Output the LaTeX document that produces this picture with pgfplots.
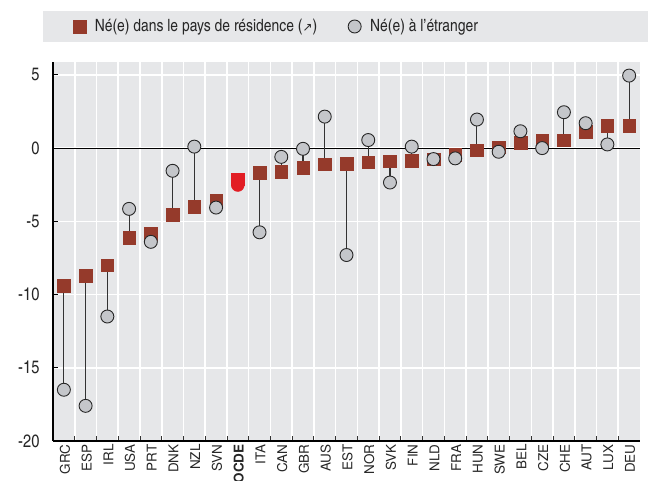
\documentclass[border=0pt]{standalone}
\usepackage{fontspec}
\setmainfont{TeX Gyre Heros Cn}
\newfontfamily\dejavu{DejaVu Sans}
\newfontfamily\xfont{TeX Gyre Heros}
\usepackage{pgfplots}
\pgfplotsset{compat=1.18}
\usepackage{pgfplotstable}
\definecolor{bgc}{HTML}{E6E7E9}
\definecolor{sqc}{HTML}{953A2B}
\definecolor{cic}{HTML}{C4C6CA}
\definecolor{oecd}{HTML}{E21D24}
\pgfplotstableread{
x sq ci
0 -9.4 -16.5
1 -8.7 -17.6
2 -8.0 -11.5
3 -6.1 -4.15
4 -5.85 -6.4
5 -4.55 -1.55
6 -4.0 0.1
7 -3.6 -4.06
9 -1.68 -5.75
10 -1.6 -0.6
11 -1.35 -0.05
12 -1.1 2.15
13 -1.05 -7.3
14 -0.95 0.55
15 -0.9 -2.35
16 -0.85 0.1
17 -0.75 -0.75
18 -0.45 -0.7
19 -0.15 1.95
20 0.05 -0.25
21 0.35 1.15
22 0.5 0.0
23 0.55 2.45
24 1.1 1.7
25 1.55 0.25
26 1.55 4.95
}\data
\begin{document}
\begin{tikzpicture}
\fill[white] (-53bp,-40bp) rectangle (595bp,441bp);
\fill[bgc] (-10bp,399bp) rectangle (595bp,430bp);
\begin{axis}[
  at={(0,0)}, anchor=south west, scale only axis,
  width=587bp, height=379.3bp,
  xmin=-0.5, xmax=26.5, ymin=-20, ymax=5.9,
  axis background/.style={fill=bgc},
  axis x line*=bottom, axis y line*=left,
  axis line style={black, line width=1.3pt},
  xtick={0,...,26},
  xticklabels={GRC,ESP,IRL,USA,PRT,DNK,NZL,SVN,\textbf{OCDE},ITA,CAN,GBR,AUS,EST,NOR,SVK,FIN,NLD,FRA,HUN,SWE,BEL,CZE,CHE,AUT,LUX,DEU},
  major x tick style={draw=none},
  minor xtick={0.5,1.5,...,25.5},
  xminorgrids,
  minor x grid style={white, line width=1.6pt},
  ytick={-20,-15,...,5},
  ymajorgrids,
  major y grid style={white, line width=1.6pt},
  tick align=inside,
  major tick length=5bp, minor tick length=5bp,
  minor x tick style={black!80, line width=0.8pt},
  major y tick style={black, line width=0.8pt},
  xticklabel style={rotate=90, anchor=east, font=\xfont\fontsize{13.5}{13.5}\selectfont, text=black!85, yshift=-1bp},
  yticklabel style={font=\fontsize{18}{18}\selectfont, text=black!85, xshift=-10bp},
  /pgf/number format/assume math mode=true,
  legend columns=2,
  legend style={at={(0.029,1.0928)}, anchor=west, draw=none, fill=none,
    font=\fontsize{17}{17}\selectfont, text=black!85,
    /tikz/every odd column/.append style={column sep=7bp},
    /tikz/every even column/.append style={column sep=29bp}},
  legend cell align=left,
]
\draw[black, line width=1pt] (axis cs:-0.5,0) -- (axis cs:26.5,0);
\addplot[forget plot, mark=none, draw=black!80, line width=1.1pt,
  quiver={u=0, v=\thisrow{ci}-\thisrow{sq}}] table[x=x, y=sq] {\data};
\addplot[sqc, only marks, mark=square*, mark size=6.3bp, mark options={fill=sqc, draw=sqc}] table[x=x, y=sq] {\data};
\addlegendentry{Né(e) dans le pays de résidence ({\dejavu\fontsize{12}{12}\selectfont ↗})}
\addplot[black!85, only marks, mark=*, mark size=6.5bp, mark options={fill=cic, draw=black!85, line width=0.9pt}] table[x=x, y=ci] {\data};
\addlegendentry{Né(e) à l’étranger}
\addplot[oecd, forget plot, only marks, mark=square*, mark size=6.3bp, mark options={fill=oecd, draw=oecd}] coordinates {(8,-2.13)};
\addplot[oecd, forget plot, only marks, mark=*, mark size=6.5bp, mark options={fill=oecd, draw=oecd}] coordinates {(8,-2.52)};
\end{axis}
\pgfresetboundingbox
\path[use as bounding box] (-53bp,-40bp) rectangle (595bp,441bp);
\end{tikzpicture}
\end{document}
